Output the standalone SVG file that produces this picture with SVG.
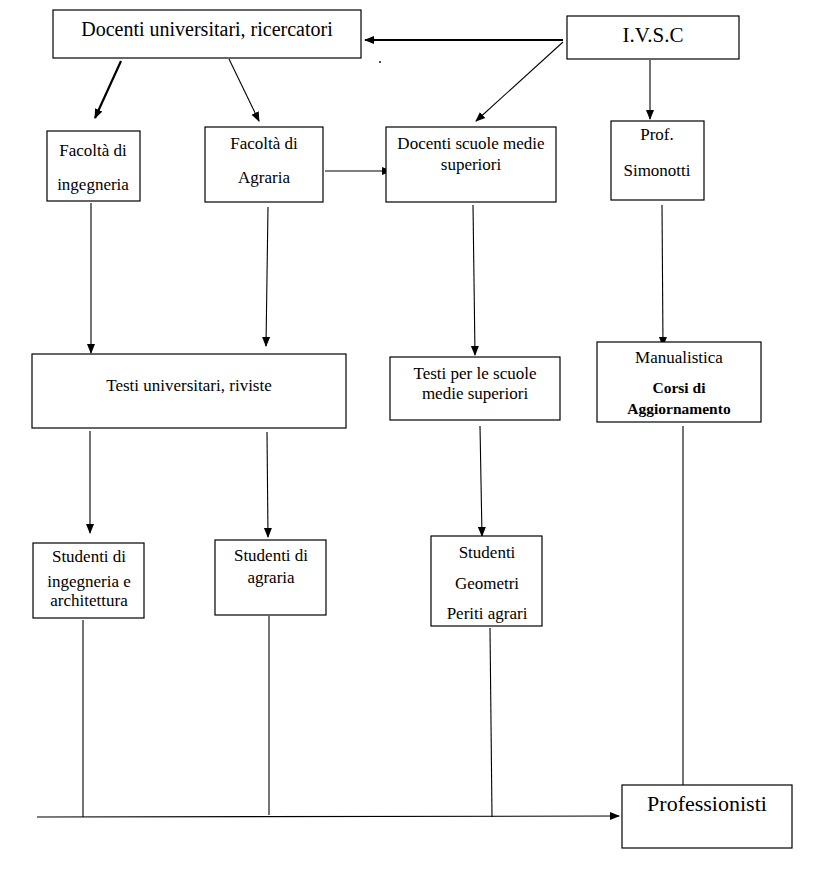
<svg xmlns="http://www.w3.org/2000/svg" width="820" height="871" viewBox="0 0 820 871" font-family="'Liberation Serif', 'Times New Roman', serif">
<defs>
<style>
.box{fill:#fff;stroke:#000;stroke-width:1.2}
text{font-family:'Liberation Serif','Times New Roman',serif;fill:#000;text-anchor:middle}
.t15{font-size:17px}
.b{font-weight:bold;font-size:15.5px}
.c{stroke:#000;stroke-width:1.1;fill:none}
.thick{stroke-width:2.2}
</style>
<marker id="ah" markerWidth="10" markerHeight="10" refX="9" refY="5" orient="auto" markerUnits="userSpaceOnUse">
<path d="M0,1 L10,5 L0,9 Z" fill="#000"/>
</marker>
</defs>
<rect width="820" height="871" fill="#fff"/>
<g id="connectors">
<line class="c thick" x1="563" y1="40" x2="365" y2="40" marker-end="url(#ah)"/>
<line class="c" x1="563" y1="42" x2="476" y2="121" marker-end="url(#ah)"/>
<line class="c" x1="650" y1="60" x2="650" y2="119" marker-end="url(#ah)"/>
<line class="c thick" x1="121" y1="61" x2="95" y2="118" marker-end="url(#ah)"/>
<line class="c" x1="229" y1="59" x2="259" y2="121" marker-end="url(#ah)"/>
<line class="c" x1="325" y1="171" x2="391" y2="171" marker-end="url(#ah)"/>
<line class="c" x1="91" y1="203" x2="91" y2="353" marker-end="url(#ah)"/>
<line class="c" x1="268" y1="207" x2="266" y2="346" marker-end="url(#ah)"/>
<line class="c" x1="473" y1="205" x2="475" y2="355" marker-end="url(#ah)"/>
<line class="c" x1="662" y1="205" x2="663" y2="346" marker-end="url(#ah)"/>
<line class="c" x1="90" y1="431" x2="90" y2="533" marker-end="url(#ah)"/>
<line class="c" x1="267" y1="432" x2="268" y2="537" marker-end="url(#ah)"/>
<line class="c" x1="480" y1="426" x2="482" y2="536" marker-end="url(#ah)"/>
<line class="c" x1="683" y1="426" x2="683" y2="785"/>
<line class="c" x1="83" y1="620" x2="83" y2="817"/>
<line class="c" x1="269" y1="616" x2="269" y2="815"/>
<line class="c" x1="490" y1="628" x2="492" y2="817"/>
<line class="c" x1="37" y1="817" x2="619" y2="816" marker-end="url(#ah)"/>
</g>
<g id="docenti-univ">
<rect class="box" x="53" y="10" width="308" height="48"/>
<text x="207" y="36" font-size="20">Docenti universitari, ricercatori</text>
</g>
<circle cx="380" cy="62" r="0.9" fill="#000"/>
<g id="ivsc">
<rect class="box" x="567" y="16" width="172" height="43"/>
<text x="653" y="42" font-size="21">I.V.S.C</text>
</g>
<g id="fac-ing">
<rect class="box" x="47" y="131" width="93" height="70"/>
<text class="t15" x="93" y="156">Facoltà di</text>
<text class="t15" x="93" y="190">ingegneria</text>
</g>
<g id="fac-agr">
<rect class="box" x="205" y="127" width="118" height="75"/>
<text class="t15" x="264" y="149">Facoltà di</text>
<text class="t15" x="264" y="183">Agraria</text>
</g>
<g id="docenti-scuole">
<rect class="box" x="386" y="127" width="170" height="75"/>
<text class="t15" x="471" y="149">Docenti scuole medie</text>
<text class="t15" x="471" y="170">superiori</text>
</g>
<g id="simonotti">
<rect class="box" x="611" y="121" width="93" height="79"/>
<text class="t15" x="657" y="140">Prof.</text>
<text class="t15" x="657" y="176">Simonotti</text>
</g>
<g id="testi-univ">
<rect class="box" x="32" y="354" width="314" height="74"/>
<text class="t15" x="189" y="391">Testi universitari, riviste</text>
</g>
<g id="testi-scuole">
<rect class="box" x="390" y="357" width="170" height="63"/>
<text class="t15" x="475" y="379">Testi per le scuole</text>
<text class="t15" x="475" y="399">medie superiori</text>
</g>
<g id="manualistica">
<rect class="box" x="597" y="342" width="164" height="80"/>
<text class="t15" x="679" y="363">Manualistica</text>
<text class="t15 b" x="679" y="393">Corsi di</text>
<text class="t15 b" x="679" y="414">Aggiornamento</text>
</g>
<g id="stud-ing">
<rect class="box" x="33" y="543" width="111" height="75"/>
<text class="t15" x="89" y="562">Studenti di</text>
<text class="t15" x="89" y="587">ingegneria e</text>
<text class="t15" x="89" y="606">architettura</text>
</g>
<g id="stud-agr">
<rect class="box" x="215" y="540" width="111" height="75"/>
<text class="t15" x="271" y="561">Studenti di</text>
<text class="t15" x="271" y="583">agraria</text>
</g>
<g id="stud-geom">
<rect class="box" x="431" y="536" width="111" height="90"/>
<text class="t15" x="487" y="558">Studenti</text>
<text class="t15" x="487" y="589">Geometri</text>
<text class="t15" x="487" y="619">Periti agrari</text>
</g>
<g id="professionisti">
<rect class="box" x="622" y="785" width="170" height="63"/>
<text x="707" y="811" font-size="22">Professionisti</text>
</g>
</svg>
